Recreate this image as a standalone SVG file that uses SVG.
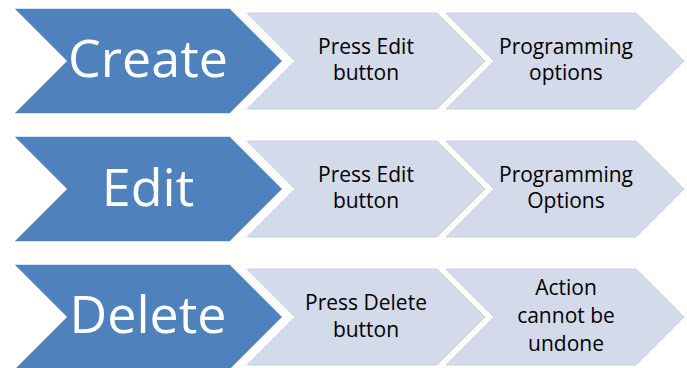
<svg xmlns="http://www.w3.org/2000/svg" width="687" height="368" viewBox="0 0 687 368">
  <defs>
    <!-- chevron shapes, drawn relative to the top of each row -->
    <path id="bigChevron" d="M13,0 H230 L283,53 L230,106 H13 L66,53 Z"/>
    <path id="stepChevron" d="M0,5 H190 L238,53 L190,101 H0 L48,53 Z"/>
  </defs>
  <style>
    .big { fill: #4f81bd; stroke: #ffffff; stroke-width: 1.5; }
    .step { fill: #d3dae9; stroke: #c8d1e4; stroke-width: 1; }
    .bigText { font-family: "Open Sans", "Liberation Sans", sans-serif; font-size: 52px; fill: #ffffff; text-anchor: middle; }
    .stepText { font-family: "Open Sans", "Liberation Sans", sans-serif; font-size: 21px; fill: #000000; text-anchor: middle; }
  </style>
  <rect width="687" height="368" fill="#ffffff"/>

  <!-- row 1: Create -->
  <g id="row-create" transform="translate(0,8)">
    <g id="create-step2">
      <use href="#stepChevron" class="step" x="446"/>
      <text class="stepText" x="566" y="46">Programming</text>
      <text class="stepText" x="566" y="72">options</text>
    </g>
    <g id="create-step1">
      <use href="#stepChevron" class="step" x="247"/>
      <text class="stepText" x="366" y="46">Press Edit</text>
      <text class="stepText" x="366" y="72">button</text>
    </g>
    <g id="create">
      <use href="#bigChevron" class="big"/>
      <text class="bigText" x="148" y="69">Create</text>
    </g>
  </g>

  <!-- row 2: Edit -->
  <g id="row-edit" transform="translate(0,136)">
    <g id="edit-step2">
      <use href="#stepChevron" class="step" x="446"/>
      <text class="stepText" x="566" y="46">Programming</text>
      <text class="stepText" x="566" y="72">Options</text>
    </g>
    <g id="edit-step1">
      <use href="#stepChevron" class="step" x="247"/>
      <text class="stepText" x="366" y="46">Press Edit</text>
      <text class="stepText" x="366" y="72">button</text>
    </g>
    <g id="edit">
      <use href="#bigChevron" class="big"/>
      <text class="bigText" x="148" y="70">Edit</text>
    </g>
  </g>

  <!-- row 3: Delete -->
  <g id="row-delete" transform="translate(0,264)">
    <g id="delete-step2">
      <use href="#stepChevron" class="step" x="446"/>
      <text class="stepText" x="566" y="31">Action</text>
      <text class="stepText" x="566" y="59">cannot be</text>
      <text class="stepText" x="566" y="87">undone</text>
    </g>
    <g id="delete-step1">
      <use href="#stepChevron" class="step" x="247"/>
      <text class="stepText" x="366" y="46">Press Delete</text>
      <text class="stepText" x="366" y="73">button</text>
    </g>
    <g id="delete">
      <use href="#bigChevron" class="big"/>
      <text class="bigText" x="148" y="69">Delete</text>
    </g>
  </g>
</svg>
